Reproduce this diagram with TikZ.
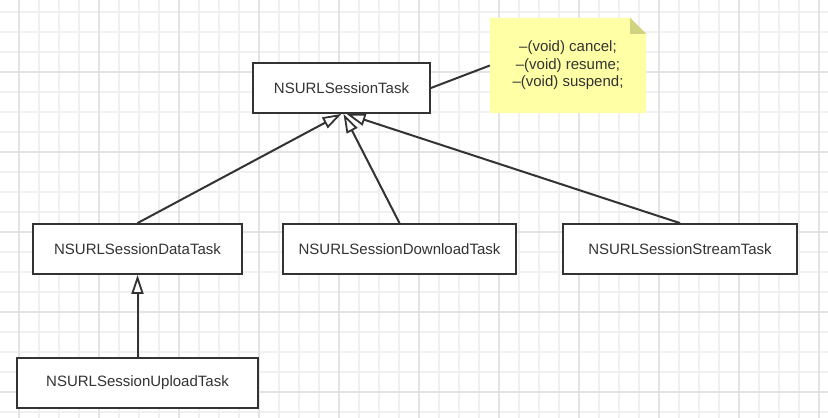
\documentclass[tikz,border=0pt]{standalone}
\usepackage{fontspec}
\setmainfont{Liberation Sans}
\usetikzlibrary{arrows.meta, positioning, backgrounds}

\definecolor{inkgray}{HTML}{333333}
\definecolor{notefill}{HTML}{FFFFA6}
\definecolor{notefold}{HTML}{D2D283}
\definecolor{gridminor}{HTML}{F0F0F0}
\definecolor{gridmajor}{HTML}{E3E3E3}

\tikzset{
  classbox/.style={draw=inkgray, line width=1.8pt, fill=white, minimum height=50pt,
    inner sep=0pt, text=inkgray, font=\fontsize{15}{17}\selectfont},
  inherit/.style={draw=inkgray, line width=2pt,
    -{Triangle[fill=white, length=19pt, width=12pt, line width=1.8pt]}},
  plainlink/.style={draw=inkgray, line width=2pt},
}

\begin{document}
\begin{tikzpicture}[x=1pt, y=-1pt]
    \useasboundingbox (0,0) rectangle (828,418);

    % grid paper
    \begin{scope}[on background layer]
        \fill[white] (0,0) rectangle (828,418);
        \foreach \gx in {19,39,...,819} \draw[gridminor, line width=1.2pt] (\gx,0) -- (\gx,418);
        \foreach \gy in {12,32,...,412} \draw[gridminor, line width=1.2pt] (0,\gy) -- (828,\gy);
        \foreach \gx in {19,99,...,819} \draw[gridmajor, line width=1.2pt] (\gx,0) -- (\gx,418);
        \foreach \gy in {72,152,...,392} \draw[gridmajor, line width=1.2pt] (0,\gy) -- (828,\gy);
    \end{scope}

    % classes
    \node[classbox, minimum width=177pt] (task) at (341.5, 88) {NSURLSessionTask};
    \node[classbox, minimum width=209pt] (data) at (137.5, 249) {NSURLSessionDataTask};
    \node[classbox, minimum width=233pt] (download) at (399.5, 249) {NSURLSessionDownloadTask};
    \node[classbox, minimum width=234pt] (stream) at (680, 249) {NSURLSessionStreamTask};
    \node[classbox, minimum width=241pt] (upload) at (137.5, 383) {NSURLSessionUploadTask};

    % note with folded corner
    \node[minimum width=156pt, minimum height=95pt, inner sep=0pt, align=center,
          text=inkgray, font=\fontsize{15}{17.5}\selectfont] (note) at (568, 65.5)
          {\raisebox{-2pt}{\begin{tabular}{@{}c@{}}–(void) cancel;\\–(void) resume;\\–(void) suspend;\end{tabular}}};
    \begin{scope}[on background layer]
        \fill[notefill] (note.south west) -- (note.north west) -- ([xshift=-16pt]note.north east)
            -- ([yshift=-16pt]note.north east) -- (note.south east) -- cycle;
        \fill[notefold] ([xshift=-16pt]note.north east) -- ([xshift=-16pt, yshift=-16pt]note.north east)
            -- ([yshift=-16pt]note.north east) -- cycle;
    \end{scope}

    % links
    \draw[plainlink] (task.east) -- (note.west);
    \draw[inherit] (data.north) -- (task.south);
    \draw[inherit] (download.north) -- ([xshift=2pt]task.south);
    \draw[inherit] (stream.north) -- ([xshift=5pt]task.south);
    \draw[inherit] (upload.north) -- (data.south);
\end{tikzpicture}
\end{document}
